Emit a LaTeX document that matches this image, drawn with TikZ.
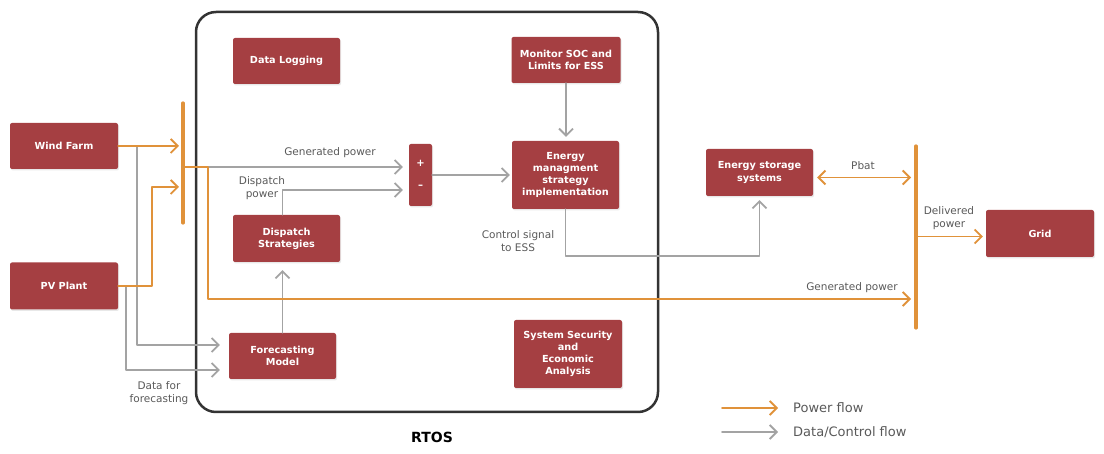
\documentclass[tikz,border=0pt]{standalone}
\usepackage{fontspec}
\setmainfont{DejaVu Sans}
\usetikzlibrary{arrows.meta,calc,shadows}
\definecolor{boxred}{HTML}{A53F42}
\definecolor{powor}{HTML}{E0923A}
\definecolor{datgr}{HTML}{A3A3A3}
\definecolor{txtgr}{HTML}{595959}
\definecolor{rtosln}{HTML}{333333}
\tikzset{
  blk/.style={fill=boxred,text=white,rounded corners=2pt,align=center,
    font=\fontsize{9.7}{12.2}\selectfont\bfseries,minimum width=107pt,minimum height=46pt,inner sep=2pt,
    drop shadow={opacity=0.18,shadow xshift=1pt,shadow yshift=-1.5pt}},
  lbl/.style={text=txtgr,align=center,font=\fontsize{10.5}{13}\selectfont,inner sep=0pt},
  pow/.style={draw=powor,line width=1.8pt,-{Straight Barb[length=7pt,width=14pt]},shorten >=4pt},
  dat/.style={draw=datgr,line width=1.8pt,-{Straight Barb[length=7pt,width=14pt]},shorten >=4pt},
  busbar/.style={draw=powor,line width=3.2pt},
}
\begin{document}
\begin{tikzpicture}[x=1pt,y=-1pt,line join=round,line cap=round]
\useasboundingbox (0,0) rectangle (1104,454);
% RTOS frame
\node[draw=rtosln,line width=2.5pt,rounded corners=20pt,minimum width=462pt,minimum height=400pt,inner sep=0pt] (rtos) at (427,212) {};
\node[font=\fontsize{14}{16}\selectfont\bfseries] (rtoslbl) at (432,437) {RTOS};
% sources
\node[blk,minimum width=108pt] (wind) at (64,146) {Wind Farm};
\node[blk,minimum width=108pt,minimum height=47pt] (pv) at (64,286) {PV Plant};
% inside RTOS
\node[blk] (logging) at (286.5,61) {Data Logging};
\node[blk,minimum width=109pt] (monitor) at (566,60) {Monitor SOC and\\Limits for ESS};
\node[blk,minimum height=68pt] (energy) at (565.5,175) {Energy\\managment\\strategy\\implementation};
\node[blk,minimum height=47pt] (dispatch) at (286.5,238.5) {Dispatch\\Strategies};
\node[blk] (forecast) at (282.5,356) {Forecasting\\Model};
\node[blk,minimum width=108pt,minimum height=68pt] (security) at (568,354) {System Security\\and\\Economic\\Analysis};
\node[blk,minimum width=23pt,minimum height=62pt,inner sep=0pt] (pm) at (420.5,175) {};
\node[text=white,font=\fontsize{10}{12}\selectfont\bfseries] (plus) at (420.5,163) {+};
\node[text=white,font=\fontsize{10}{12}\selectfont\bfseries] (minus) at (420.5,187) {--};
% outputs
\node[blk,minimum height=47pt] (ess) at (759.5,172.5) {Energy storage\\systems};
\node[blk,minimum width=108pt,minimum height=47pt] (grid) at (1040,233.5) {Grid};
% bus bars
\coordinate (b1t) at (183,103); \coordinate (b1b) at (183,223);
\coordinate (b2t) at (916,146); \coordinate (b2b) at (916,328);
\coordinate (b1p) at (183,187); \coordinate (b1o) at (183,167);
\coordinate (genb) at (208,299);
\draw[busbar] (b1t) -- (b1b);
\draw[busbar] (b2t) -- (b2b);
% data / control flow
\draw[dat,shorten >=6pt] (b1o) -- (b1o -| pm.west);
\draw[dat,shorten >=6pt] ([xshift=-4pt]dispatch.north) |- ([yshift=-15pt]pm.west);
\draw[dat,shorten >=2pt] (pm.east) -- (energy.west);
\draw[dat] (monitor.south) -- (monitor.south |- energy.north);
\draw[dat] (energy.south) |- ($(ess.south)+(0,60)$) -- (ess.south);
\draw[dat,shorten >=9pt] ($(wind.east)+(19,0)$) |- ([yshift=11pt]forecast.west);
\draw[dat,shorten >=9pt] ($(pv.east)+(8,0)$) |- ([yshift=-14pt]forecast.west);
\draw[dat,shorten >=8pt] (forecast.north) -- (forecast.north |- dispatch.south);
% power flow
\draw[pow] (wind.east) -- (wind.east -| b1t);
\draw[pow] (pv.east) -| ($(b1p)+(-31,0)$) -- (b1p);
\draw[pow,shorten >=5pt] (b1o) -| (genb) -- (genb -| b2t);
\draw[pow,{Straight Barb[length=7pt,width=14pt]}-{Straight Barb[length=7pt,width=14pt]},shorten <=4pt,shorten >=5pt] ([yshift=-5pt]ess.east) -- ([yshift=-5pt]ess.east -| b2t);
\draw[pow,shorten >=3pt] ([yshift=-3pt]grid.west -| b2t) -- ([yshift=-3pt]grid.west);
% labels
\node[lbl] (genlbl) at (330,153) {Generated power};
\node[lbl] (genlbl2) at (852,288) {Generated power};
\node[lbl] (displbl) at (262,188.5) {Dispatch\\power};
\node[lbl] (ctllbl) at (518,241.5) {Control signal\\to ESS};
\node[lbl] (datlbl) at (159,393) {Data for\\forecasting};
\node[lbl] (pbatlbl) at (863,166) {Pbat};
\node[lbl] (dellbl) at (949,218.5) {Delivered\\power};
% legend
\node[lbl,anchor=west,font=\fontsize{13}{15}\selectfont] (lpow) at (793,408) {Power flow};
\node[lbl,anchor=west,font=\fontsize{13}{15}\selectfont] (ldat) at (793,432) {Data/Control flow};
\draw[pow,shorten >=0pt] ($(lpow.west)+(-71,0)$) -- ($(lpow.west)+(-15,0)$);
\draw[dat,shorten >=0pt] ($(ldat.west)+(-71,0)$) -- ($(ldat.west)+(-15,0)$);
\end{tikzpicture}
\end{document}
